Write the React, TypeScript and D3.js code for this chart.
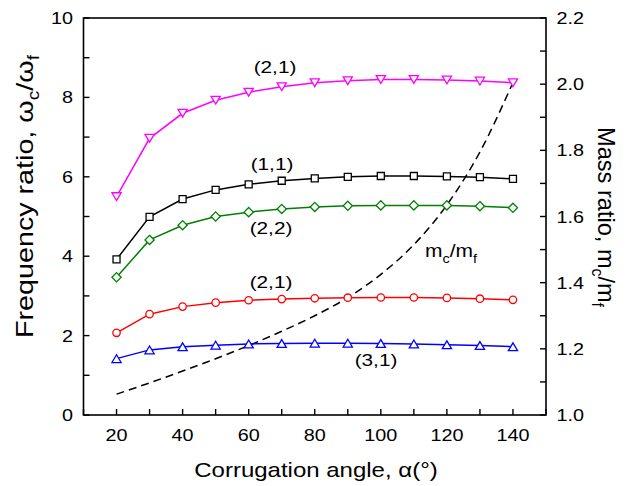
import React from "react";
import * as d3 from "d3";

const angles = [20, 30, 40, 50, 60, 70, 80, 90, 100, 110, 120, 130, 140];
const mode21a = [5.5, 6.97, 7.6, 7.93, 8.13, 8.27, 8.37, 8.42, 8.45, 8.45, 8.44, 8.41, 8.37];
const mode11 = [3.92, 4.99, 5.44, 5.67, 5.81, 5.9, 5.96, 6.0, 6.02, 6.02, 6.01, 5.99, 5.95];
const mode22 = [3.47, 4.41, 4.78, 5.0, 5.11, 5.19, 5.24, 5.27, 5.28, 5.28, 5.28, 5.26, 5.22];
const mode21b = [2.07, 2.54, 2.73, 2.83, 2.89, 2.92, 2.94, 2.955, 2.96, 2.96, 2.95, 2.93, 2.9];
const mode31 = [1.42, 1.64, 1.72, 1.76, 1.79, 1.8, 1.81, 1.81, 1.8, 1.79, 1.77, 1.75, 1.72];
const massRatio = [1.063, 1.097, 1.133, 1.17, 1.21, 1.253, 1.3, 1.355, 1.425, 1.515, 1.635, 1.795, 2.005];

const xTicks = [10, 20, 30, 40, 50, 60, 70, 80, 90, 100, 110, 120, 130, 140, 150];
const xLabels = [20, 40, 60, 80, 100, 120, 140];
const yLTicks = [0, 1, 2, 3, 4, 5, 6, 7, 8, 9, 10];
const yLLabels = [0, 2, 4, 6, 8, 10];
const yRTicks = [1.0, 1.1, 1.2, 1.3, 1.4, 1.5, 1.6, 1.7, 1.8, 1.9, 2.0, 2.1, 2.2];
const yRLabels = [1.0, 1.2, 1.4, 1.6, 1.8, 2.0, 2.2];

const FONT = "'Liberation Sans', Arial, Helvetica, sans-serif";

const L = 83.5, R = 546, T = 18, B = 415;
const x = d3.scaleLinear().domain([10, 150]).range([L, R]);
const yL = d3.scaleLinear().domain([0, 10]).range([B, T]);
const yR = d3.scaleLinear().domain([1.0, 2.2]).range([B, T]);

type Marker = "square" | "circle" | "up" | "down" | "diamond";

function markerPath(m: Marker, cx: number, cy: number): string {
  switch (m) {
    case "square": {
      const h = 3.5;
      return `M${cx - h},${cy - h}H${cx + h}V${cy + h}H${cx - h}Z`;
    }
    case "up": {
      const w = 4.6, h = 3.9;
      return `M${cx},${cy - h}L${cx + w},${cy + h}L${cx - w},${cy + h}Z`;
    }
    case "down": {
      const w = 4.6, h = 3.9;
      return `M${cx},${cy + h}L${cx + w},${cy - h}L${cx - w},${cy - h}Z`;
    }
    case "diamond": {
      const r = 4.6;
      return `M${cx},${cy - r}L${cx + r},${cy}L${cx},${cy + r}L${cx - r},${cy}Z`;
    }
    default:
      return "";
  }
}

const series: { values: number[]; color: string; marker: Marker }[] = [
  { values: mode21a, color: "#FF00FF", marker: "down" },
  { values: mode11, color: "#000000", marker: "square" },
  { values: mode22, color: "#008000", marker: "diamond" },
  { values: mode21b, color: "#FF0000", marker: "circle" },
  { values: mode31, color: "#0000FF", marker: "up" },
];

function SText(props: {
  x: number;
  y: number;
  size: number;
  sx?: number;
  anchor?: "start" | "middle" | "end";
  children: React.ReactNode;
}) {
  const sx = props.sx ?? 1.2;
  return (
    <text
      transform={`translate(${props.x},${props.y}) scale(${sx},1)`}
      textAnchor={props.anchor ?? "middle"}
      fontSize={props.size}
    >
      {props.children}
    </text>
  );
}

export default function App() {
  const line = d3.line<number>().x((_, i) => x(angles[i])).y((v) => yL(v));
  const massLine = d3
    .line<number>()
    .x((_, i) => x(angles[i]))
    .y((v) => yR(v))
    .curve(d3.curveMonotoneX);
  const tick = 6;
  return (
    <svg
      width={632}
      height={486}
      style={{ position: "absolute", left: 0, top: 0, background: "#fff" }}
      fontFamily={FONT}
    >
      <rect x={0} y={0} width={632} height={486} fill="#fff" />
      <path d={massLine(massRatio) || ""} fill="none" stroke="#000" strokeWidth={1.5} strokeDasharray="8,5" />
      {series.map((s, si) => (
        <g key={si}>
          <path d={line(s.values) || ""} fill="none" stroke={s.color} strokeWidth={1.5} />
          {s.values.map((v, i) =>
            s.marker === "circle" ? (
              <circle key={i} cx={x(angles[i])} cy={yL(v)} r={3.7} fill="#fff" stroke={s.color} strokeWidth={1.3} />
            ) : (
              <path key={i} d={markerPath(s.marker, x(angles[i]), yL(v))} fill="#fff" stroke={s.color} strokeWidth={1.3} />
            )
          )}
        </g>
      ))}
      <rect x={L} y={T} width={R - L} height={B - T} fill="none" stroke="#000" strokeWidth={1.6} />
      {xTicks.map((t) => (
        <line key={t} x1={x(t)} x2={x(t)} y1={B} y2={B - tick} stroke="#000" strokeWidth={1.4} />
      ))}
      {xLabels.map((t) => (
        <SText key={t} x={x(t)} y={441} size={16.5}>
          {t}
        </SText>
      ))}
      {yLTicks.map((t) => (
        <line key={t} x1={L} x2={L + tick} y1={yL(t)} y2={yL(t)} stroke="#000" strokeWidth={1.4} />
      ))}
      {yLLabels.map((t) => (
        <SText key={t} x={73} y={yL(t) + 6} size={16.5} anchor="end">
          {t}
        </SText>
      ))}
      {yRTicks.map((t) => (
        <line key={t} x1={R} x2={R - tick} y1={yR(t)} y2={yR(t)} stroke="#000" strokeWidth={1.4} />
      ))}
      {yRLabels.map((t) => (
        <SText key={t} x={556.5} y={yR(t) + 6} size={16.5} anchor="start">
          {t.toFixed(1)}
        </SText>
      ))}
      <SText x={275} y={73} size={16.5} sx={1.26}>(2,1)</SText>
      <SText x={272} y={170} size={16.5} sx={1.26}>(1,1)</SText>
      <SText x={271} y={234} size={16.5} sx={1.26}>(2,2)</SText>
      <SText x={271} y={288} size={16.5} sx={1.26}>(2,1)</SText>
      <SText x={376} y={366} size={16.5} sx={1.26}>(3,1)</SText>
      <SText x={425} y={257} size={17.5} anchor="start">
        m<tspan dy={6} fontSize={12}>c</tspan>
        <tspan dy={-6}>/m</tspan>
        <tspan dy={6} fontSize={12}>f</tspan>
      </SText>
      <SText x={316} y={477} size={20}>
        Corrugation angle, α(°)
      </SText>
      <text
        transform="translate(33,338) rotate(-90)"
        textAnchor="start"
        fontSize={24}
        textLength={283}
        lengthAdjust="spacingAndGlyphs"
      >
        Frequency ratio, ω<tspan dy={6} fontSize={16}>c</tspan>
        <tspan dy={-6}>/ω</tspan>
        <tspan dy={6} fontSize={16}>f</tspan>
      </text>
      <text
        transform="translate(598,127) rotate(90)"
        textAnchor="start"
        fontSize={24}
        textLength={180}
        lengthAdjust="spacingAndGlyphs"
      >
        Mass ratio, m<tspan dy={6} fontSize={16}>c</tspan>
        <tspan dy={-6}>/m</tspan>
        <tspan dy={6} fontSize={16}>f</tspan>
      </text>
    </svg>
  );
}
